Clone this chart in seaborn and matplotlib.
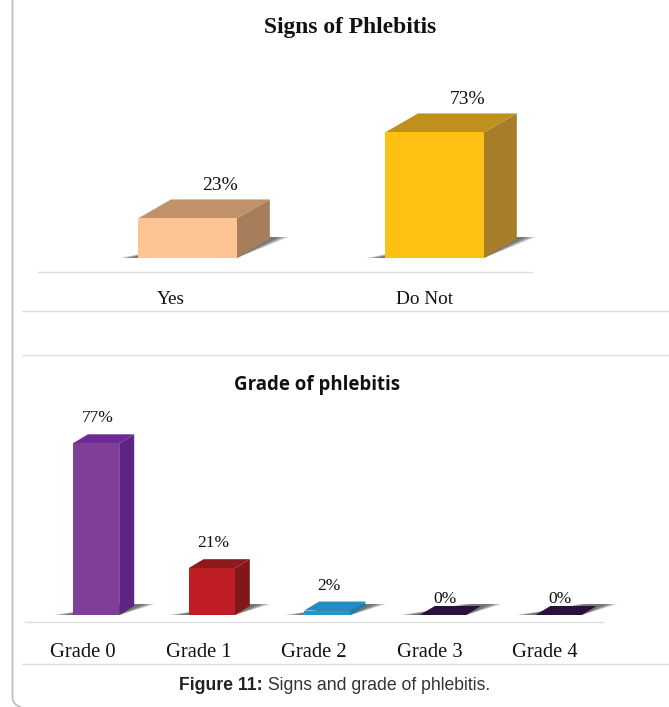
import matplotlib
matplotlib.use("Agg")
import matplotlib.pyplot as plt
from matplotlib.patches import Polygon
from matplotlib.path import Path
from matplotlib.patches import PathPatch
import pandas as pd
import seaborn as sns

signs = ["Yes", "Do Not"]
signs_pct = [23, 73]
signs_front = ["#FDC494", "#FFC014"]
signs_top = ["#C1916A", "#BF901E"]
signs_side = ["#A67E5C", "#A67D28"]

grades = ["Grade 0", "Grade 1", "Grade 2", "Grade 3", "Grade 4"]
grades_pct = [77, 21, 2, 0, 0]
grades_front = ["#7F3F98", "#BE1E24", "#2596CC", "#2A0F3F", "#2A0F3F"]
grades_top = ["#6E2A94", "#8E1A1C", "#1E8DC4", "#2A0F3F", "#2A0F3F"]
grades_side = ["#5F2585", "#80171A", "#1B7FB0", "#2A0F3F", "#2A0F3F"]

W, H = 669, 707
LINE = "#DEDEDE"
SERIF = "Liberation Serif"

sns.set_theme(style="white")
fig = plt.figure(figsize=(W / 100, H / 100), dpi=100)


def px_axes(x0, x1, y_top, y_bottom):
    return fig.add_axes([x0 / W, 1 - y_bottom / H, (x1 - x0) / W, (y_bottom - y_top) / H])


def draw_chart(ax, cats, vals, front, top, side, depth, shadow, lab_dx, lab_dy, lab_size):
    df = pd.DataFrame({"cat": cats, "pct": vals})
    xlim = ax.get_xlim()
    ylim = ax.get_ylim()
    sns.barplot(data=df, x="cat", y="pct", hue="cat", palette=front, dodge=False,
                width=BAR_W, legend=False, saturation=1, ax=ax)
    ax.set_xlim(xlim)
    ax.set_ylim(ylim)
    bbox = ax.get_window_extent()
    ux = (xlim[1] - xlim[0]) / bbox.width
    uy = (ylim[1] - ylim[0]) / bbox.height
    dx, dy = depth[0] * ux, depth[1] * uy
    bars = sorted(ax.patches, key=lambda p: p.get_x())
    for i, bar in enumerate(bars):
        x0 = bar.get_x()
        x1 = x0 + bar.get_width()
        h = bar.get_height()
        bar.set_zorder(4)
        bar.set_linewidth(0)
        # soft floor shadow, stacked layers fake the blur
        for k in range(6):
            grow = (5 - k) * 2.2
            sl = (shadow[0] + grow - 6) * ux
            sr = (shadow[1] + grow - 6) * ux
            sh = shadow[2] * uy
            ax.add_patch(Polygon([(x0 - sl, 0), (x1, 0), (x1 + sr, sh), (x1 + sr - (x1 - x0) * 0.6, sh)],
                                 closed=True, fc="#303030", ec="none", alpha=0.16, zorder=1, clip_on=False))
        ax.add_patch(Polygon([(x1, 0), (x1 + dx, dy), (x1 + dx, h + dy), (x1, h)],
                             closed=True, fc=side[i], ec="none", zorder=2))
        ax.add_patch(Polygon([(x0, h), (x1, h), (x1 + dx, h + dy), (x0 + dx, h + dy)],
                             closed=True, fc=top[i], ec="none", zorder=3))
        ax.annotate(f"{vals[i]}%", xy=((x0 + x1) / 2, h + dy if h > 0 else 0),
                    xytext=(lab_dx * 0.72, lab_dy * 0.72), textcoords="offset points",
                    ha="center", va="center", family=SERIF, fontsize=lab_size, color="#111111")
    sns.despine(ax=ax, left=True)
    ax.spines["bottom"].set_color(LINE)
    ax.spines["bottom"].set_linewidth(1)
    ax.set_xlabel("")
    ax.set_ylabel("")
    ax.set_yticks([])


# top chart
BAR_W = 0.4
ax1 = px_axes(38, 532, 100, 272)
ax1.set_xlim(-0.605, 1.395)
ax1.set_ylim(-14 / 1.72, 158 / 1.72)
draw_chart(ax1, signs, signs_pct, signs_front, signs_top, signs_side,
           (33, 19), (14, 47, 21), 33, 14, 14)
ax1.set_xticks([-0.067, 0.962], labels=signs)
ax1.tick_params(axis="x", length=0, pad=14)
for t in ax1.get_xticklabels():
    t.set_family(SERIF)
    t.set_fontsize(13.9)
    t.set_color("#111111")

# bottom chart
BAR_W = 0.4
ax2 = px_axes(25, 603, 420, 622)
ax2.set_xlim(-0.615, 4.385)
ax2.set_ylim(-7 / 2.23, 195 / 2.23)
draw_chart(ax2, grades, grades_pct, grades_front, grades_top, grades_side,
           (15, 9), (15, 31, 11), 2, 16, 12.5)
ax2.set_xticks([-0.115, 0.885, 1.885, 2.885, 3.885], labels=grades)
ax2.tick_params(axis="x", length=0, pad=15)
for t in ax2.get_xticklabels():
    t.set_family(SERIF)
    t.set_fontsize(14.8)
    t.set_color("#111111")

# page furniture drawn in pixel coordinates
page = fig.add_axes([0, 0, 1, 1], zorder=-1)
page.set_xlim(0, W)
page.set_ylim(H, 0)
page.axis("off")
for y in [311, 355, 664]:
    page.plot([22, W], [y, y], color=LINE, lw=1)
border = Path([(12.5, 0), (12.5, 697), (12.5, 705), (21, 707)],
              [Path.MOVETO, Path.LINETO, Path.CURVE3, Path.CURVE3])
page.add_patch(PathPatch(border, fc="none", ec="#BDBDBD", lw=1.2, clip_on=False))

page.text(350, 27, "Signs of Phlebitis", ha="center", va="center", family=SERIF,
          fontweight="bold", fontsize=16.9, color="#111111")
page.text(317, 385, "Grade of phlebitis", ha="center", va="center", family="Open Sans",
          fontweight="bold", fontsize=13.4, color="#111111")
cap = page.text(179, 686, "Figure 11:", ha="left", va="center", family="Liberation Sans",
                fontweight="bold", fontsize=12.7, color="#222222")
page.annotate(" Signs and grade of phlebitis.", xy=(1, 0.5), xycoords=cap, va="center",
              family="Liberation Sans", fontsize=12.7, color="#333333")

fig.savefig("out.png", dpi=100, facecolor="white")
